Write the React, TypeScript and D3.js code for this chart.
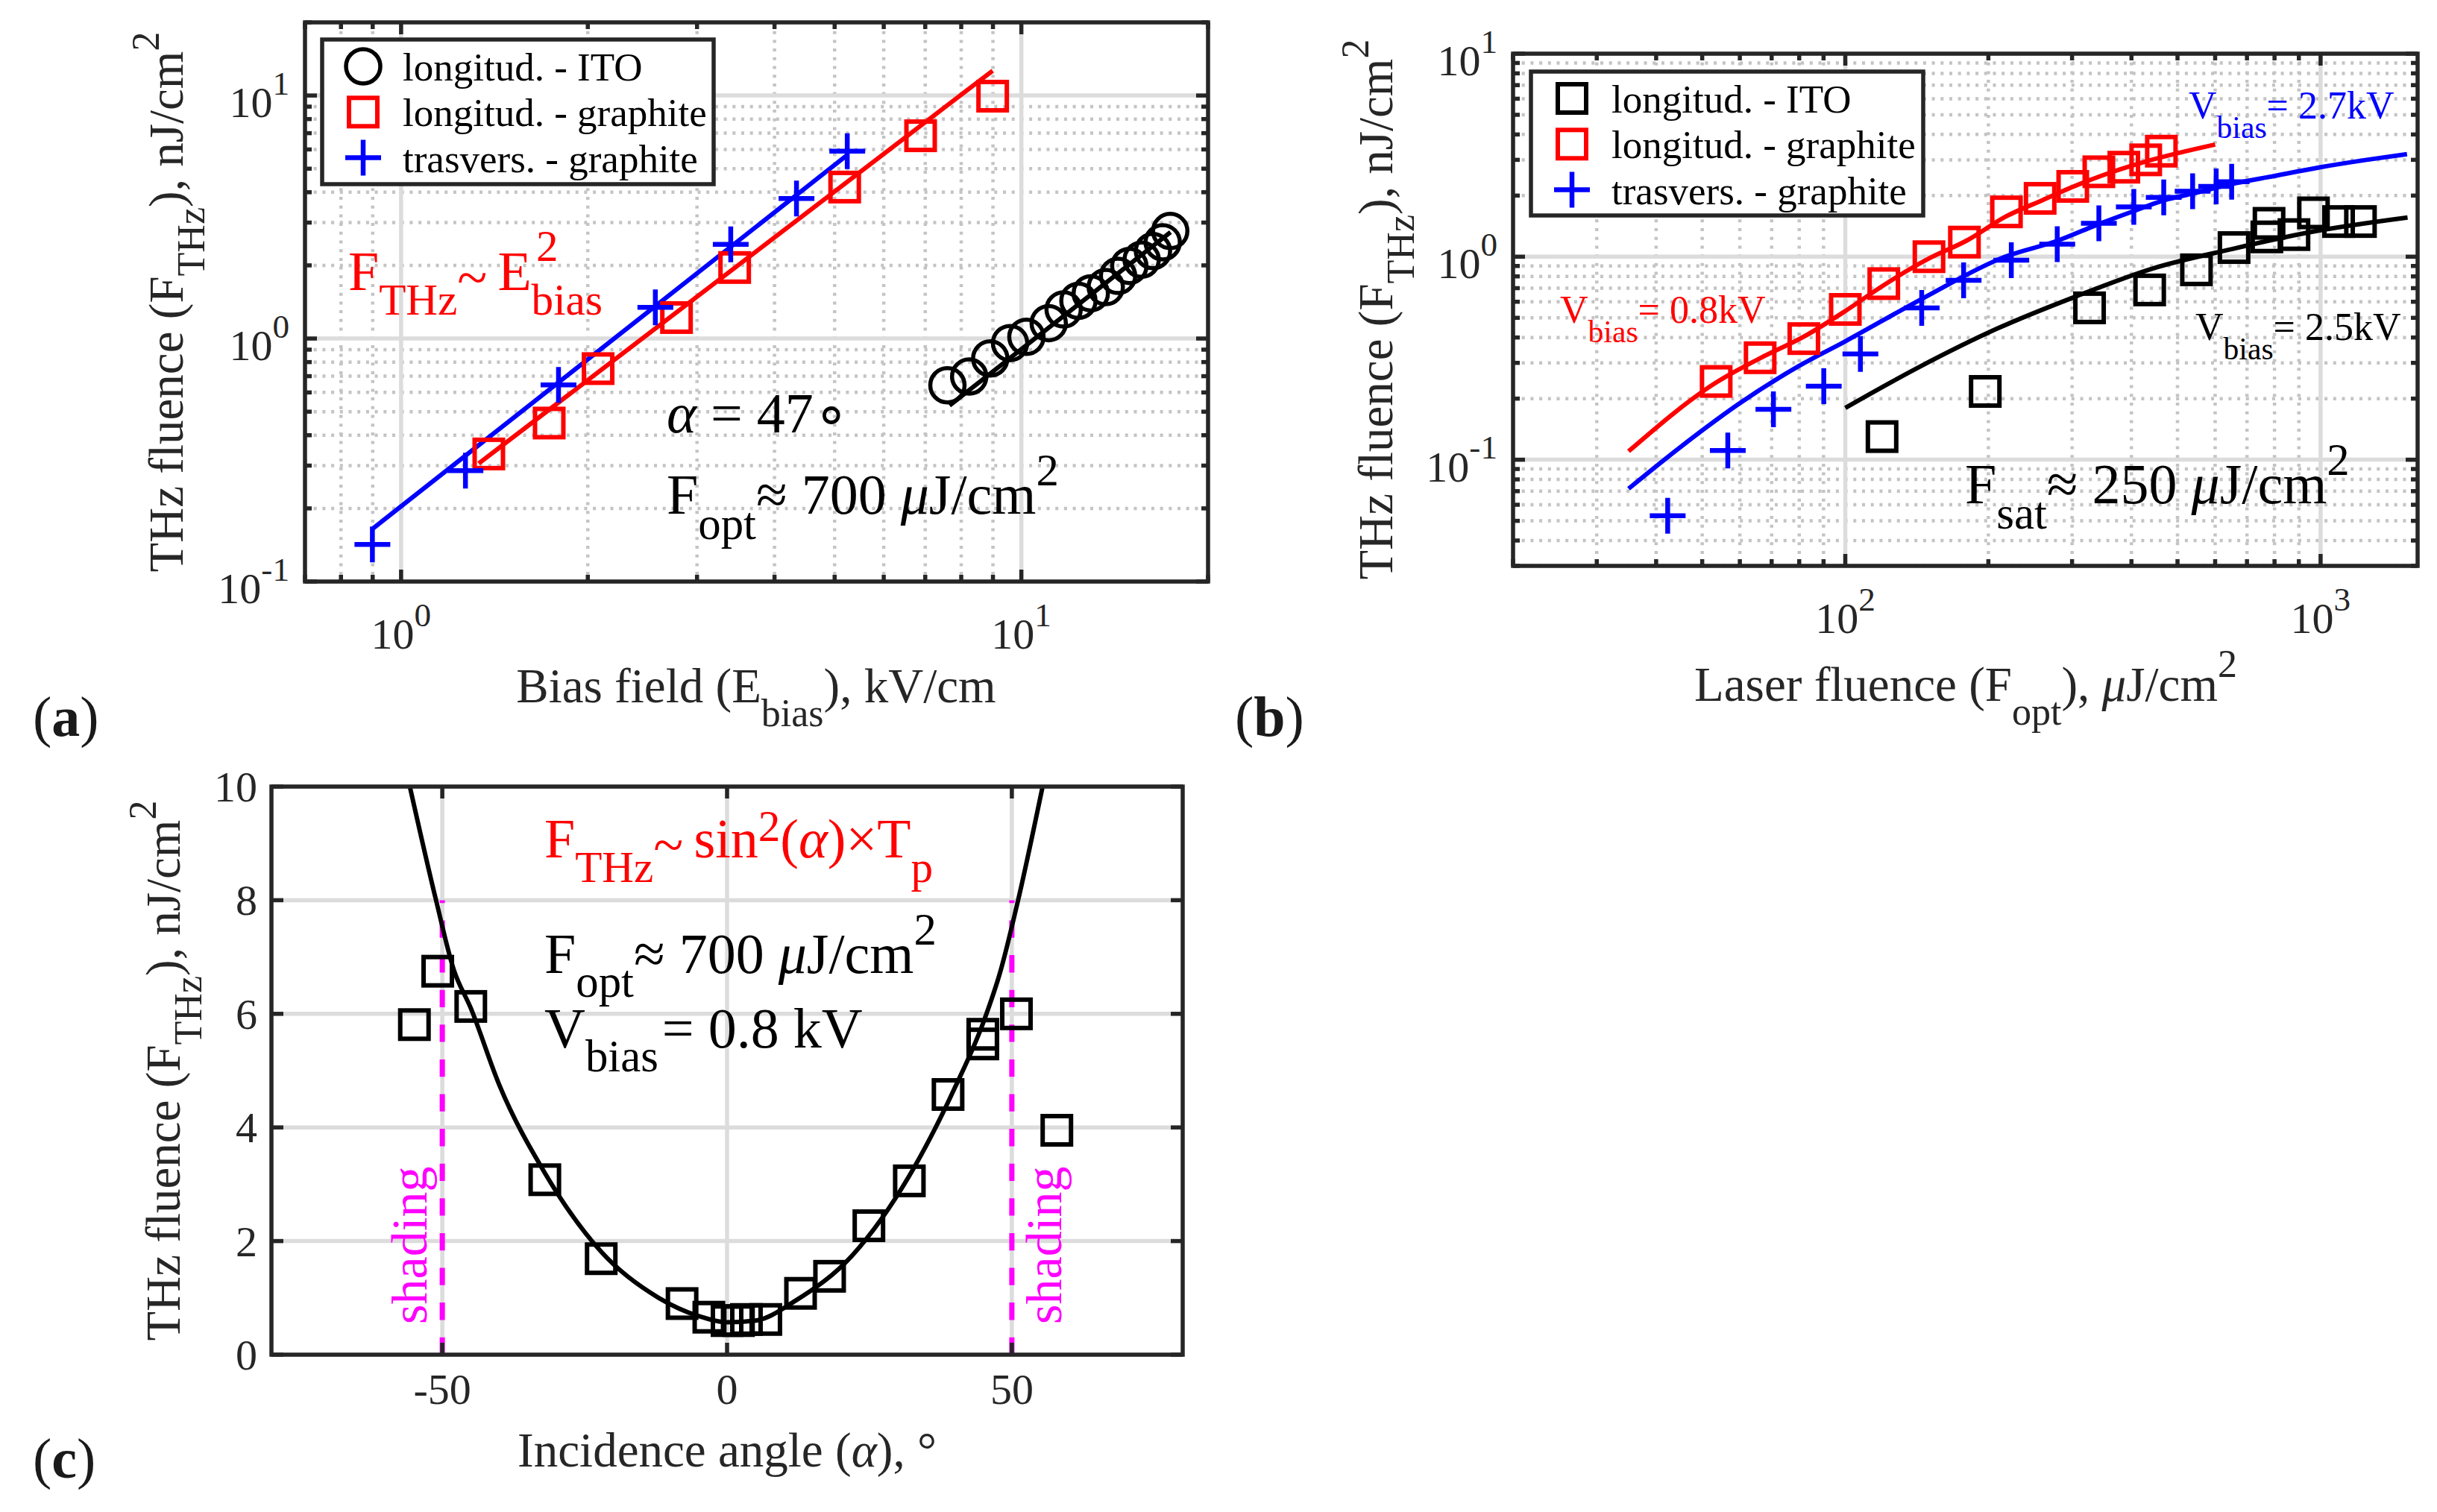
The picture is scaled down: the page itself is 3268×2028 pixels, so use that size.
import * as d3 from 'd3';

const FONT = '"Liberation Serif", "Times New Roman", Times, serif';
const INK = '#262626';
const RED = '#ff0000';
const BLUE = '#0000ff';
const MAGENTA = '#ff00ff';
const MAJOR = '#dcdcdc';
const MINOR = '#c4c4c4';

// ---- (a) THz fluence vs bias field, alpha = 47 deg
const aItoField = [7.6, 8.24, 8.91, 9.59, 10.19, 11.07, 11.7, 12.36, 12.94, 13.68, 14.32, 14.93, 15.63, 16.3, 16.9, 17.38];
const aItoThz = [0.642, 0.698, 0.828, 0.958, 1.016, 1.157, 1.317, 1.43, 1.535, 1.628, 1.81, 1.99, 2.11, 2.29, 2.49, 2.77];
const aLongField = [1.385, 1.733, 2.078, 2.78, 3.45, 5.19, 6.88, 8.99];
const aLongThz = [0.335, 0.449, 0.752, 1.22, 1.96, 4.2, 6.83, 9.94];
const aTransField = [0.899, 1.27, 1.794, 2.57, 3.4, 4.34, 5.24];
const aTransThz = [0.142, 0.286, 0.645, 1.344, 2.44, 3.77, 5.9];
// E^2 fit lines, end points
const aItoFitField = [7.66, 17.4];
const aItoFitThz = [0.53, 2.74];
const aLongFitField = [1.334, 8.99];
const aLongFitThz = [0.306, 12.65];
const aTransFitField = [0.9, 5.24];
const aTransFitThz = [0.165, 5.69];

// ---- (b) THz fluence vs laser fluence
const bItoOpt = [119.5, 197, 326.5, 436.9, 548, 657.6, 770.9, 779, 879, 966, 1091, 1213];
const bItoThz = [0.13, 0.217, 0.56, 0.686, 0.862, 1.109, 1.252, 1.46, 1.285, 1.644, 1.49, 1.49];
const bLongOpt = [53.5, 66.2, 81.8, 100, 120.5, 150, 178.1, 218.3, 257, 301, 341.6, 385.5, 428.6, 462.4];
const bLongThz = [0.243, 0.318, 0.395, 0.55, 0.737, 1.0, 1.18, 1.663, 1.938, 2.22, 2.62, 2.76, 3.0, 3.31];
const bTransOpt = [42.3, 56.6, 70.6, 90.1, 107.6, 144.8, 177.4, 223.5, 279.2, 341.6, 404.6, 467.7, 538, 603, 650];
const bTransThz = [0.053, 0.111, 0.177, 0.23, 0.332, 0.559, 0.765, 0.962, 1.152, 1.46, 1.758, 1.96, 2.1, 2.22, 2.34];
// saturation fits
const bLongFitOpt = [35, 53.5, 66, 82, 100, 120, 150, 180, 218, 260, 300, 345, 430, 600];
const bLongFitThz = [0.11, 0.24, 0.315, 0.405, 0.54, 0.72, 0.98, 1.2, 1.58, 1.9, 2.2, 2.5, 2.95, 3.57];
const bTransFitOpt = [35, 44.9, 60, 80, 100, 145, 217, 280, 342, 405, 470, 540, 650, 800, 1000, 1250, 1520];
const bTransFitThz = [0.072, 0.115, 0.19, 0.29, 0.383, 0.62, 1.0, 1.2, 1.45, 1.68, 1.9, 2.05, 2.28, 2.5, 2.76, 3.0, 3.2];
const bItoFitOpt = [100, 143, 209, 305, 445, 650, 948, 1524];
const bItoFitThz = [0.18, 0.286, 0.443, 0.636, 0.877, 1.09, 1.32, 1.56];

// ---- (c) THz fluence vs incidence angle
const cAngle = [-54.9, -50.8, -45, -32, -22.1, -7.9, -3.2, 0, 2, 3.4, 6.8, 12.9, 18, 24.9, 32, 38.8, 44.9, 44.9, 50.8, 57.9];
const cThz = [5.81, 6.75, 6.13, 3.08, 1.69, 0.9, 0.66, 0.6, 0.6, 0.62, 0.62, 1.08, 1.38, 2.27, 3.06, 4.58, 5.47, 5.64, 6.0, 3.95];
const cFitAngle = [-55.7, -51.1, -48, -45, -40, -32, -22, -12, -5, 0, 5, 12, 22, 32, 40, 45, 48, 51.1, 55.4];
const cFitThz = [10, 8, 6.78, 6.1, 4.75, 3.2, 1.8, 1.0, 0.68, 0.57, 0.6, 0.95, 1.75, 3.15, 4.7, 5.85, 6.75, 8, 10];
const cShadeAngle = [-50, 50];
const cShadeTop = 8;
const cXTicks = [-50, 0, 50];
const cYTicks = [0, 2, 4, 6, 8, 10];

// text segment: p = 'b' subscript / 'p' superscript, o = extra baseline shift in px
type Seg = { t: string; p?: 'b' | 'p'; i?: boolean; dx?: number; w?: string; o?: number };

function Rich({ x, y, size, parts, fill = 'black', anchor = 'start', rot = false, ss = 0.8, sub = 0.45, sup = 0.5 }: any) {
  let prev = 0;
  return (
    <text
      x={x}
      y={y}
      fontSize={size}
      fill={fill}
      textAnchor={anchor}
      fontFamily={FONT}
      style={{ whiteSpace: 'pre' }}
      transform={rot ? `rotate(-90 ${x} ${y})` : undefined}
    >
      {(parts as Seg[]).map((s, k) => {
        const off = (s.p === 'b' ? sub * size : s.p === 'p' ? -sup * size : 0) + (s.o || 0);
        const dy = off - prev;
        prev = off;
        return (
          <tspan key={k} dy={dy} dx={s.dx} fontSize={s.p ? size * ss : size} fontStyle={s.i ? 'italic' : undefined} fontWeight={s.w}>
            {s.t}
          </tspan>
        );
      })}
    </text>
  );
}

type Tick = { v: number; major: boolean };

function logTicks(lo: number, hi: number): Tick[] {
  const out: Tick[] = [];
  for (let e = Math.floor(Math.log10(lo)); e <= Math.ceil(Math.log10(hi)); e++) {
    for (let m = 1; m <= 9; m++) {
      const v = m * Math.pow(10, e);
      if (v >= lo * 0.999 && v <= hi * 1.001) out.push({ v, major: m === 1 });
    }
  }
  return out;
}

function Grid({ box, x, y, xt, yt }: any) {
  return (
    <g>
      {xt.filter((t: Tick) => !t.major).map((t: Tick, i: number) => (
        <line key={'xm' + i} x1={x(t.v)} x2={x(t.v)} y1={box.t} y2={box.b} stroke={MINOR} strokeWidth={4.5} strokeDasharray="4 7.7" />
      ))}
      {yt.filter((t: Tick) => !t.major).map((t: Tick, i: number) => (
        <line key={'ym' + i} x1={box.l} x2={box.r} y1={y(t.v)} y2={y(t.v)} stroke={MINOR} strokeWidth={4.5} strokeDasharray="4 7.7" />
      ))}
      {xt.filter((t: Tick) => t.major).map((t: Tick, i: number) => (
        <line key={'xM' + i} x1={x(t.v)} x2={x(t.v)} y1={box.t} y2={box.b} stroke={MAJOR} strokeWidth={5.5} />
      ))}
      {yt.filter((t: Tick) => t.major).map((t: Tick, i: number) => (
        <line key={'yM' + i} x1={box.l} x2={box.r} y1={y(t.v)} y2={y(t.v)} stroke={MAJOR} strokeWidth={5.5} />
      ))}
    </g>
  );
}

function Frame({ box, x, y, xt, yt }: any) {
  return (
    <g stroke={INK} strokeWidth={5.5}>
      {xt.map((t: Tick, i: number) => {
        const len = t.major ? 16 : 9;
        const px = x(t.v);
        return (
          <g key={'x' + i}>
            <line x1={px} x2={px} y1={box.b} y2={box.b - len} />
            <line x1={px} x2={px} y1={box.t} y2={box.t + len} />
          </g>
        );
      })}
      {yt.map((t: Tick, i: number) => {
        const len = t.major ? 16 : 9;
        const py = y(t.v);
        return (
          <g key={'y' + i}>
            <line x1={box.l} x2={box.l + len} y1={py} y2={py} />
            <line x1={box.r} x2={box.r - len} y1={py} y2={py} />
          </g>
        );
      })}
      <rect x={box.l} y={box.t} width={box.r - box.l} height={box.b - box.t} fill="none" />
    </g>
  );
}

function LogLabels({ box, x, y, xt, yt }: any) {
  return (
    <g>
      {xt.filter((t: Tick) => t.major).map((t: Tick, i: number) => (
        <Rich key={'lx' + i} x={x(t.v)} y={box.b + 90} size={58} fill={INK} anchor="middle" ss={0.78} sup={0.52}
          parts={[{ t: '10' }, { t: String(Math.round(Math.log10(t.v))), p: 'p' }]} />
      ))}
      {yt.filter((t: Tick) => t.major).map((t: Tick, i: number) => (
        <Rich key={'ly' + i} x={box.l - 21} y={y(t.v) + 29} size={58} fill={INK} anchor="end" ss={0.78} sup={0.52}
          parts={[{ t: '10' }, { t: String(Math.round(Math.log10(t.v))), p: 'p' }]} />
      ))}
    </g>
  );
}

function Circle({ cx, cy, c }: any) {
  return <circle cx={cx} cy={cy} r={23} fill="none" stroke={c} strokeWidth={5.5} />;
}
function Square({ cx, cy, c }: any) {
  return <rect x={cx - 19} y={cy - 19} width={38} height={38} fill="none" stroke={c} strokeWidth={6} />;
}
function Plus({ cx, cy, c }: any) {
  return <path d={`M${cx - 24},${cy}H${cx + 24}M${cx},${cy - 24}V${cy + 24}`} stroke={c} strokeWidth={6.5} fill="none" />;
}
const MARK: any = { o: Circle, s: Square, '+': Plus };

function Legend({ x0, y0, w, h, rows }: any) {
  return (
    <g>
      <rect x={x0} y={y0} width={w} height={h} fill="#fff" stroke={INK} strokeWidth={5.5} />
      {rows.map((r: any, i: number) => {
        const M = MARK[r.m];
        const cy = y0 + 36 + i * 61.3;
        return (
          <g key={i}>
            <M cx={x0 + 55} cy={cy} c={r.c} />
            <text x={x0 + 108} y={cy + 19} fontSize={53} fontFamily={FONT} fill="black">
              {r.label}
            </text>
          </g>
        );
      })}
    </g>
  );
}

function Tag({ x, y, letter }: any) {
  return <Rich x={x} y={y} size={76} fill="#1a1a1a" parts={[{ t: '(' }, { t: letter, w: 'bold' }, { t: ')' }]} />;
}

function PanelA() {
  const box = { l: 409, r: 1620, t: 30, b: 780 };
  const x = d3.scaleLog().domain([0.7, 20]).range([box.l, box.r]);
  const y = d3.scaleLog().domain([0.1, 20]).range([box.b, box.t]);
  const xt = logTicks(0.7, 20);
  const yt = logTicks(0.1, 20);
  const line = d3.line<any>().x((d) => x(d[0])).y((d) => y(d[1]));
  return (
    <g>
      <defs>
        <clipPath id="clipA">
          <rect x={box.l} y={box.t} width={box.r - box.l} height={box.b - box.t} />
        </clipPath>
      </defs>
      <Grid box={box} x={x} y={y} xt={xt} yt={yt} />
      <g clipPath="url(#clipA)" fill="none">
        <path d={line(d3.zip(aItoFitField, aItoFitThz))!} stroke="black" strokeWidth={6} />
        <path d={line(d3.zip(aLongFitField, aLongFitThz))!} stroke={RED} strokeWidth={6} />
        <path d={line(d3.zip(aTransFitField, aTransFitThz))!} stroke={BLUE} strokeWidth={6} />
        {d3.zip(aItoField, aItoThz).map(([u, v], i) => <Circle key={'c' + i} cx={x(u)} cy={y(v)} c="black" />)}
        {d3.zip(aLongField, aLongThz).map(([u, v], i) => <Square key={'s' + i} cx={x(u)} cy={y(v)} c={RED} />)}
        {d3.zip(aTransField, aTransThz).map(([u, v], i) => <Plus key={'p' + i} cx={x(u)} cy={y(v)} c={BLUE} />)}
      </g>
      <Frame box={box} x={x} y={y} xt={xt} yt={yt} />
      <LogLabels box={box} x={x} y={y} xt={xt} yt={yt} />
      <Legend x0={432} y0={53} w={525} h={194} rows={[
        { m: 'o', c: 'black', label: 'longitud. - ITO' },
        { m: 's', c: RED, label: 'longitud. - graphite' },
        { m: '+', c: BLUE, label: 'trasvers. - graphite' },
      ]} />
      <Rich x={467} y={389} size={74} fill={RED} parts={[{ t: 'F' }, { t: 'THz', p: 'b' }, { t: '~', o: 8 }, { t: 'E', dx: 14 }, { t: 'bias', p: 'b' }]} />
      <Rich x={719} y={350} size={59} fill={RED} parts={[{ t: '2' }]} />
      <Rich x={894} y={580} size={76} parts={[{ t: 'α', i: true }, { t: ' = 47' }, { t: '∘' }]} />
      <Rich x={894} y={689} size={76} parts={[{ t: 'F' }, { t: 'opt', p: 'b' }, { t: '≈ 700 ' }, { t: 'μ', i: true }, { t: 'J/cm' }, { t: '2', p: 'p' }]} />
      <Rich x={1014} y={942} size={65} fill={INK} anchor="middle" sub={0.49}
        parts={[{ t: 'Bias field (E' }, { t: 'bias', p: 'b' }, { t: '), kV/cm' }]} />
      <Rich x={245} y={405} size={65} fill={INK} anchor="middle" rot sub={0.45}
        parts={[{ t: 'THz fluence (F' }, { t: 'THz', p: 'b' }, { t: '), nJ/cm' }, { t: '2', p: 'p' }]} />
      <Tag x={44} y={987} letter="a" />
    </g>
  );
}

function PanelB() {
  const box = { l: 2029, r: 3242, t: 72, b: 759 };
  const x = d3.scaleLog().domain([20, 1600]).range([box.l, box.r]);
  const y = d3.scaleLog().domain([0.03, 10]).range([box.b, box.t]);
  const xt = logTicks(20, 1600);
  const yt = logTicks(0.03, 10);
  const curve = d3.line<any>().x((d) => x(d[0])).y((d) => y(d[1])).curve(d3.curveMonotoneX);
  return (
    <g>
      <defs>
        <clipPath id="clipB">
          <rect x={box.l} y={box.t} width={box.r - box.l} height={box.b - box.t} />
        </clipPath>
      </defs>
      <Grid box={box} x={x} y={y} xt={xt} yt={yt} />
      <g clipPath="url(#clipB)" fill="none">
        <path d={curve(d3.zip(bItoFitOpt, bItoFitThz))!} stroke="black" strokeWidth={6} />
        <path d={curve(d3.zip(bTransFitOpt, bTransFitThz))!} stroke={BLUE} strokeWidth={6} />
        <path d={curve(d3.zip(bLongFitOpt, bLongFitThz))!} stroke={RED} strokeWidth={6} />
        {d3.zip(bItoOpt, bItoThz).map(([u, v], i) => <Square key={'k' + i} cx={x(u)} cy={y(v)} c="black" />)}
        {d3.zip(bLongOpt, bLongThz).map(([u, v], i) => <Square key={'s' + i} cx={x(u)} cy={y(v)} c={RED} />)}
        {d3.zip(bTransOpt, bTransThz).map(([u, v], i) => <Plus key={'p' + i} cx={x(u)} cy={y(v)} c={BLUE} />)}
      </g>
      <Frame box={box} x={x} y={y} xt={xt} yt={yt} />
      <LogLabels box={box} x={x} y={y} xt={xt} yt={yt} />
      <Legend x0={2053} y0={96} w={526} h={193} rows={[
        { m: 's', c: 'black', label: 'longitud. - ITO' },
        { m: 's', c: RED, label: 'longitud. - graphite' },
        { m: '+', c: BLUE, label: 'trasvers. - graphite' },
      ]} />
      <Rich x={2935} y={159} size={52} fill={BLUE} sub={0.5} parts={[{ t: 'V' }, { t: 'bias', p: 'b' }, { t: '= 2.7kV' }]} />
      <Rich x={2092} y={433} size={52} fill={RED} sub={0.5} parts={[{ t: 'V' }, { t: 'bias', p: 'b' }, { t: '= 0.8kV' }]} />
      <Rich x={2944} y={456} size={52} fill="black" sub={0.5} parts={[{ t: 'V' }, { t: 'bias', p: 'b' }, { t: '= 2.5kV' }]} />
      <Rich x={2635} y={675} size={76} parts={[{ t: 'F' }, { t: 'sat', p: 'b' }, { t: '≈ 250 ' }, { t: 'μ', i: true }, { t: 'J/cm' }, { t: '2', p: 'p' }]} />
      <Rich x={2636} y={940} size={65} fill={INK} anchor="middle" sub={0.49}
        parts={[{ t: 'Laser fluence (F' }, { t: 'opt', p: 'b' }, { t: '), ' }, { t: 'μ', i: true }, { t: 'J/cm' }, { t: '2', p: 'p' }]} />
      <Rich x={1867} y={415} size={65} fill={INK} anchor="middle" rot sub={0.45}
        parts={[{ t: 'THz fluence (F' }, { t: 'THz', p: 'b' }, { t: '), nJ/cm' }, { t: '2', p: 'p' }]} />
      <Tag x={1656} y={987} letter="b" />
    </g>
  );
}

function PanelC() {
  const box = { l: 364, r: 1586, t: 1055, b: 1817 };
  const x = d3.scaleLinear().domain([-80, 80]).range([box.l, box.r]);
  const y = d3.scaleLinear().domain([0, 10]).range([box.b, box.t]);
  const xt = cXTicks.map((v) => ({ v, major: true }));
  const yt = cYTicks.map((v) => ({ v, major: true }));
  const curve = d3.line<any>().x((d) => x(d[0])).y((d) => y(d[1])).curve(d3.curveMonotoneX);
  return (
    <g>
      <defs>
        <clipPath id="clipC">
          <rect x={box.l} y={box.t} width={box.r - box.l} height={box.b - box.t} />
        </clipPath>
      </defs>
      <Grid box={box} x={x} y={y} xt={xt} yt={yt} />
      <g clipPath="url(#clipC)" fill="none">
        {cShadeAngle.map((a, i) => (
          <line key={'d' + i} x1={x(a)} x2={x(a)} y1={y(0)} y2={y(cShadeTop)} stroke={MAGENTA} strokeWidth={7} strokeDasharray="23.3 23.3" />
        ))}
        <path d={curve(d3.zip(cFitAngle, cFitThz))!} stroke="black" strokeWidth={6} />
        {d3.zip(cAngle, cThz).map(([u, v], i) => <Square key={'s' + i} cx={x(u)} cy={y(v)} c="black" />)}
      </g>
      <Frame box={box} x={x} y={y} xt={xt} yt={yt} />
      {cXTicks.map((v) => (
        <text key={'tx' + v} x={x(v)} y={box.b + 66} fontSize={58} fontFamily={FONT} fill={INK} textAnchor="middle">{String(v)}</text>
      ))}
      {cYTicks.map((v) => (
        <text key={'ty' + v} x={box.l - 19} y={y(v) + 20} fontSize={58} fontFamily={FONT} fill={INK} textAnchor="end">{String(v)}</text>
      ))}
      <Rich x={572} y={1776} size={68} fill={MAGENTA} rot parts={[{ t: 'shading' }]} />
      <Rich x={1423} y={1776} size={68} fill={MAGENTA} rot parts={[{ t: 'shading' }]} />
      <Rich x={730} y={1150} size={74} fill={RED} sup={0.3}
        parts={[{ t: 'F' }, { t: 'THz', p: 'b' }, { t: '~', o: 8 }, { t: 'sin', dx: 14 }, { t: '2', p: 'p' }, { t: '(' }, { t: 'α', i: true }, { t: ')×T' }, { t: 'p', p: 'b' }]} />
      <Rich x={730} y={1305} size={76} sub={0.42} parts={[{ t: 'F' }, { t: 'opt', p: 'b' }, { t: '≈ 700 ' }, { t: 'μ', i: true }, { t: 'J/cm' }, { t: '2', p: 'p' }]} />
      <Rich x={730} y={1405} size={76} sub={0.42} parts={[{ t: 'V' }, { t: 'bias', p: 'b' }, { t: '= 0.8 kV', dx: 5 }]} />
      <Rich x={975} y={1967} size={65} fill={INK} anchor="middle"
        parts={[{ t: 'Incidence angle (' }, { t: 'α', i: true }, { t: '), °' }]} />
      <Rich x={241} y={1436} size={65} fill={INK} anchor="middle" rot sub={0.45}
        parts={[{ t: 'THz fluence (F' }, { t: 'THz', p: 'b' }, { t: '), nJ/cm' }, { t: '2', p: 'p' }]} />
      <Tag x={44} y={1982} letter="c" />
    </g>
  );
}

export default function App() {
  return (
    <svg width={3268} height={2028} viewBox="0 0 3268 2028" style={{ position: 'absolute', left: 0, top: 0, display: 'block' }}>
      <rect width={3268} height={2028} fill="#fff" />
      <PanelA />
      <PanelB />
      <PanelC />
    </svg>
  );
}
